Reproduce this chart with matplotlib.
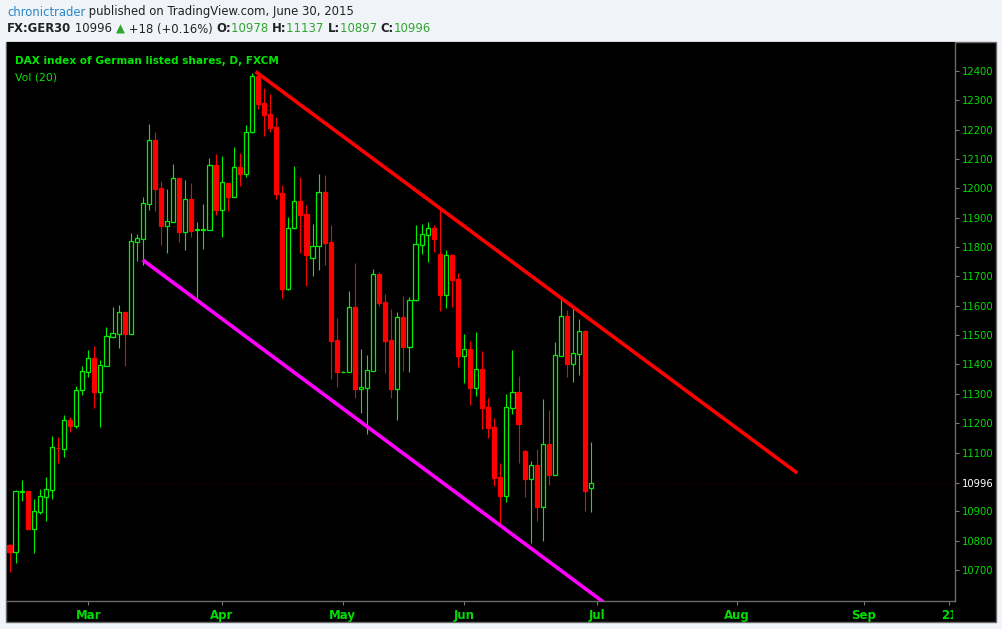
import numpy as np
import pandas as pd
import matplotlib
matplotlib.use("Agg")
import matplotlib.pyplot as plt
from matplotlib.patches import Rectangle
from matplotlib.transforms import Bbox
from matplotlib import font_manager

# ---------------- data (FX:GER30 daily) ----------------
opens = [10785, 10762, 10966, 10969, 10839, 10897, 10950, 10974, 11117, 11113,
         11210, 11192, 11312, 11376, 11421, 11307, 11396, 11495, 11504, 11578,
         11504, 11818, 11829, 11948, 12164, 12000, 11873, 11887, 12035, 11852,
         11964, 11858, 11859, 11859, 12079, 11928, 12019, 11972, 12073, 12050,
         12191, 12382, 12290, 12253, 12209, 11984, 11656, 11864, 11956, 11913,
         11762, 11803, 11987, 11816, 11482, 11376, 11376, 11595, 11318, 11321,
         11379, 11707, 11612, 11482, 11318, 11561, 11461, 11619, 11808, 11842,
         11864, 11776, 11638, 11772, 11691, 11429, 11453, 11321, 11385, 11255,
         11187, 11017, 10953, 11253, 11306, 11105, 11011, 11058, 10916, 11129,
         11024, 11430, 11565, 11403, 11437, 11514, 10978]
highs = [10790, 10972, 11006, 10970, 10942, 10976, 11017, 11156, 11153, 11228,
         11221, 11327, 11395, 11449, 11463, 11415, 11527, 11595, 11603, 11580,
         11848, 11845, 11970, 12219, 12192, 12025, 11998, 12083, 12037, 12028,
         12018, 11884, 11947, 12104, 12117, 12109, 12020, 12140, 12121, 12215,
         12392, 12390, 12342, 12322, 12242, 12010, 11903, 12075, 12039, 11943,
         11879, 12049, 12046, 11875, 11558, 11377, 11650, 11745, 11453, 11432,
         11725, 11715, 11640, 11589, 11578, 11634, 11630, 11875, 11879, 11886,
         11874, 11929, 11790, 11775, 11711, 11504, 11480, 11511, 11446, 11286,
         11219, 11064, 11301, 11449, 11362, 11108, 11072, 11112, 11283, 11245,
         11477, 11630, 11584, 11596, 11556, 11518, 11137]
lows = [10694, 10725, 10936, 10836, 10759, 10892, 10868, 10943, 11066, 11086,
        11171, 11185, 11297, 11359, 11253, 11188, 11395, 11491, 11457, 11395,
        11503, 11753, 11739, 11926, 11924, 11807, 11781, 11886, 11818, 11790,
        11835, 11620, 11794, 11859, 11910, 11836, 11924, 11971, 12008, 12040,
        12190, 12272, 12180, 12193, 11963, 11628, 11655, 11863, 11779, 11669,
        11703, 11723, 11740, 11352, 11325, 11375, 11375, 11287, 11234, 11162,
        11378, 11600, 11372, 11287, 11212, 11379, 11376, 11618, 11778, 11750,
        11784, 11583, 11594, 11597, 11393, 11338, 11262, 11294, 11180, 11151,
        10987, 10861, 10933, 11232, 11063, 10950, 10793, 10868, 10800, 10990,
        11023, 11429, 11359, 11342, 11365, 10901, 10897]
closes = [10762, 10969, 10969, 10839, 10900, 10951, 10976, 11118, 11115, 11210,
          11192, 11312, 11377, 11421, 11307, 11397, 11496, 11506, 11578, 11504,
          11820, 11830, 11949, 12164, 11999, 11873, 11888, 12035, 11852, 11964,
          11856, 11860, 11861, 12079, 11928, 12021, 11972, 12072, 12050, 12191,
          12382, 12289, 12250, 12207, 11982, 11656, 11864, 11956, 11910, 11772,
          11803, 11987, 11815, 11481, 11376, 11376, 11595, 11318, 11322, 11380,
          11707, 11609, 11481, 11318, 11561, 11461, 11619, 11809, 11843, 11864,
          11829, 11638, 11772, 11689, 11429, 11453, 11321, 11385, 11253, 11185,
          11014, 10953, 11255, 11306, 11198, 11011, 11058, 10916, 11129, 11024,
          11432, 11565, 11403, 11438, 11514, 10969, 10996]

start_date = "2015-02-11"
end_date = "2015-09-30"
skipped_days = ["2015-04-03", "2015-04-06", "2015-05-25"]
month_labels = ["Mar", "Apr", "May", "Jun", "Jul", "Aug", "Sep"]
extra_tick_date = "2015-09-21"
extra_tick_label = "21"

# trend lines: (bar index, price)
upper_line = [(40.6, 12398), (130.0, 11030)]
lower_line = [(22.0, 11756), (98.5, 10583)]

last_price = 10996
price_ticks = [10700, 10800, 10900, 11100, 11200, 11300, 11400, 11500,
               11600, 11700, 11800, 11900, 12000, 12100, 12200, 12300, 12400]

# ---------------- figure ----------------
W, H = 1002, 629
fig = plt.figure(figsize=(W / 100, H / 100), dpi=100)
fig.patch.set_facecolor("#f0f3f7")

# black chart panel
panel = Rectangle((6 / W, (H - 622) / H), 990 / W, 580 / H,
                  transform=fig.transFigure, facecolor="black",
                  edgecolor="#6a6a6a", linewidth=1.0, zorder=-10)
fig.add_artist(panel)

ax = fig.add_axes([7 / W, (H - 601) / H, 948 / W, 559 / H])
ax.set_zorder(5)
ax.set_facecolor("black")

cal = pd.bdate_range(start_date, end_date)
cal = cal[~cal.isin(pd.to_datetime(skipped_days))]
n = len(opens)
x = np.arange(n)

o = np.array(opens, float)
h = np.array(highs, float)
l = np.array(lows, float)
c = np.array(closes, float)
up = c >= o

GREEN = "#00f000"
RED = "#ff0000"

# faint dotted last price line
ax.axhline(last_price, color="#2e0000", lw=0.8, ls=(0, (1, 2)), zorder=1)

# wicks
ax.vlines(x[up], l[up], h[up], color=GREEN, lw=0.8, zorder=2)
ax.vlines(x[~up], l[~up], h[~up], color=RED, lw=0.8, zorder=2)
# bodies
bw = 0.68
ax.bar(x[up], c[up] - o[up], bottom=o[up], width=bw, facecolor="black",
       edgecolor=GREEN, linewidth=0.9, zorder=3)
ax.bar(x[~up], o[~up] - c[~up], bottom=c[~up], width=bw, facecolor=RED,
       edgecolor=RED, linewidth=0.9, zorder=3)

# trend lines
ax.plot([p[0] for p in upper_line], [p[1] for p in upper_line],
        color="#ff0000", lw=2.6, solid_capstyle="butt", zorder=5)
ax.plot([p[0] for p in lower_line], [p[1] for p in lower_line],
        color="#ff00ff", lw=2.6, solid_capstyle="butt", zorder=5)

# limits (bar spacing 6.06px, first bar centre at x=9.5px)
ax.set_xlim((7 - 9.5) / 6.06, (955 - 9.5) / 6.06)
ax.set_ylim(12400 - (601 - 71) / 0.2935, 12400 + (71 - 42) / 0.2935)

# x ticks: first bar of each month
tick_pos, tick_lab = [], []
for m, lab in zip(range(3, 10), month_labels):
    idx = np.where(cal.month == m)[0][0]
    tick_pos.append(idx)
    tick_lab.append(lab)
tick_pos.append(int(np.where(cal == pd.Timestamp(extra_tick_date))[0][0]))
tick_lab.append(extra_tick_label)
ax.set_xticks(tick_pos)

avail = {f.name for f in font_manager.fontManager.ttflist}
narrow = "Liberation Sans Narrow" if "Liberation Sans Narrow" in avail else "DejaVu Sans"
ax.set_xticklabels(tick_lab, fontfamily=narrow, fontweight="bold", fontsize=8.5,
                   color="#00dd00")
ax.tick_params(axis="x", direction="out", length=3, pad=3, color="#777777")
# the last date label is cut by the price-axis edge
clip = Bbox.from_extents(0, 0, 953, H)
for lab in ax.get_xticklabels():
    lab.set_clip_box(clip)
    lab.set_clip_on(True)

# y ticks on right
yt = sorted(price_ticks + [last_price])
ax.yaxis.tick_right()
ax.set_yticks(yt)
ax.set_yticklabels([str(v) for v in yt], fontsize=7.2, fontfamily="DejaVu Sans")
ax.tick_params(axis="y", direction="out", length=3, pad=2, color="#777777",
               labelcolor="#00dd00")
for lab in ax.get_yticklabels():
    if lab.get_text() == str(last_price):
        lab.set_color("white")
ax.yaxis.get_major_ticks()[yt.index(last_price)].tick2line.set_color("white")

for s in ["top", "left"]:
    ax.spines[s].set_visible(False)
for s in ["right", "bottom"]:
    ax.spines[s].set_color("#6a6a6a")
    ax.spines[s].set_linewidth(1.0)

# legend texts
fig.text(15 / W, 1 - 61 / H, "DAX index of German listed shares, D, FXCM",
         color="#00e600", fontsize=7.6, fontweight="bold", va="center", ha="left",
         fontfamily="DejaVu Sans", zorder=10)
fig.text(15 / W, 1 - 78 / H, "Vol (20)", color="#00e600", fontsize=7.8,
         va="center", ha="left", fontfamily="DejaVu Sans", zorder=10)

# header rich text
renderer = fig.canvas.get_renderer()


def rich(x_px, y_px, parts):
    xx = x_px
    for s, kw in parts:
        t = fig.text(xx / W, 1 - y_px / H, s, va="center", ha="left",
                     fontfamily="DejaVu Sans", **kw)
        bb = t.get_window_extent(renderer=renderer)
        xx += bb.width


HDR = 8.4
DARK = "#222222"
HG = "#2fa52f"
rich(7, 12, [("chronictrader", dict(color="#2a86c8", fontsize=HDR)),
             (" published on TradingView.com, June 30, 2015", dict(color=DARK, fontsize=HDR))])
rich(7, 29, [("FX:GER30", dict(color=DARK, fontsize=HDR, fontweight="bold")),
             (" 10996 ", dict(color=DARK, fontsize=HDR)),
             ("\u25B2", dict(color=HG, fontsize=HDR)),
             (" +18 (+0.16%) ", dict(color=DARK, fontsize=HDR)),
             ("O:", dict(color=DARK, fontsize=HDR, fontweight="bold")),
             ("10978 ", dict(color=HG, fontsize=HDR)),
             ("H:", dict(color=DARK, fontsize=HDR, fontweight="bold")),
             ("11137 ", dict(color=HG, fontsize=HDR)),
             ("L:", dict(color=DARK, fontsize=HDR, fontweight="bold")),
             ("10897 ", dict(color=HG, fontsize=HDR)),
             ("C:", dict(color=DARK, fontsize=HDR, fontweight="bold")),
             ("10996", dict(color=HG, fontsize=HDR))])

fig.savefig("out.png", dpi=100, facecolor=fig.get_facecolor())
